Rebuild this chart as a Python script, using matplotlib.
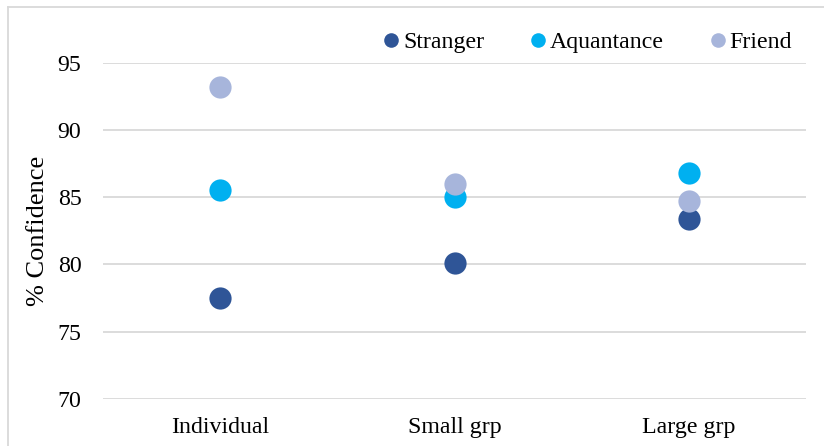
import matplotlib
matplotlib.use("Agg")
import matplotlib.pyplot as plt
from matplotlib.lines import Line2D

# Group sizes and mean confidence per relationship type
categories = ["Individual", "Small grp", "Large grp"]
stranger = [77.5, 80.1, 83.4]
aquantance = [85.5, 85.0, 86.8]
friend = [93.2, 86.0, 84.7]

series = [
    ("Stranger", stranger, "#2F5597"),
    ("Aquantance", aquantance, "#00B0F0"),
    ("Friend", friend, "#A7B5DB"),
]
yticks = [70, 75, 80, 85, 90, 95]

plt.rcParams["font.family"] = ["Liberation Serif", "DejaVu Serif"]
FS = 17.2

fig = plt.figure(figsize=(8.24, 4.46), dpi=100)
ax = fig.add_axes([103 / 824, 1 - 398.7 / 446, (806 - 103) / 824, (398.7 - 62.7) / 446])

x = list(range(len(categories)))
for label, vals, color in series:
    ax.plot(x, vals, linestyle="none", marker="o", markersize=16,
            color=color, markeredgewidth=0, label=label, zorder=3)

ax.set_xlim(-0.5, len(categories) - 0.5)
ax.set_ylim(70, 95)
ax.set_yticks(yticks)
ax.set_xticks(x)
ax.set_xticklabels(categories, fontsize=FS)
ax.tick_params(axis="y", length=0, pad=15.5, labelsize=FS)
ax.tick_params(axis="x", length=0, pad=13, labelsize=FS)
ax.grid(axis="y", color="#D9D9D9", linewidth=1.3)
ax.set_axisbelow(True)
for s in ax.spines.values():
    s.set_visible(False)

ax.set_ylabel("% Confidence", fontsize=19)
ax.yaxis.set_label_coords(-(103 - 49) / 703, 0.5)

handles = [Line2D([], [], linestyle="none", marker="o", markersize=10.5,
                  markeredgewidth=0, color=c) for _, _, c in series]
fig.legend(handles, [s[0] for s in series], loc="center left",
           bbox_to_anchor=(384 / 824, 1 - 42.5 / 446), ncol=3, frameon=False,
           fontsize=FS, handlelength=0.6, handletextpad=0.2,
           columnspacing=1.95, borderpad=0, borderaxespad=0)

# light frame around the chart area
frame_kw = dict(color="#D9D9D9", linewidth=1.3, transform=fig.transFigure)
fig.add_artist(Line2D([8 / 824, 8 / 824], [0, 1 - 7 / 446], **frame_kw))
fig.add_artist(Line2D([8 / 824, 1], [1 - 7 / 446, 1 - 7 / 446], **frame_kw))

fig.savefig("out.png", dpi=100)
